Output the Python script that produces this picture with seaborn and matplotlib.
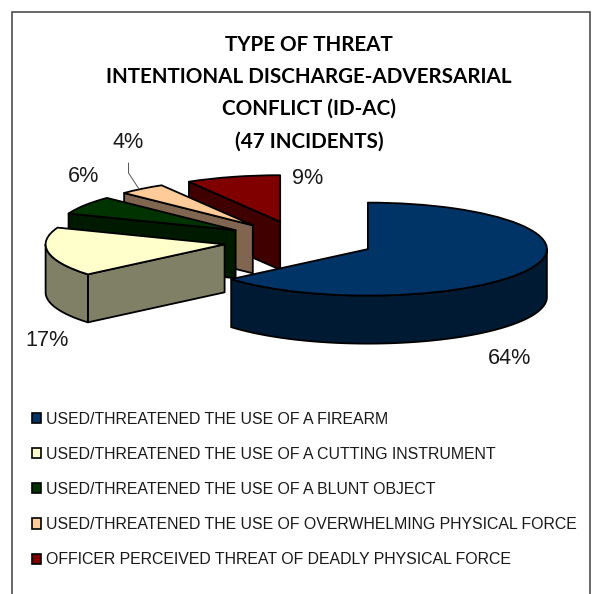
import matplotlib
matplotlib.use("Agg")
import matplotlib.pyplot as plt
from matplotlib.patches import Patch, Polygon, Rectangle
import numpy as np
import seaborn as sns

# ---- data ----
categories = [
    "USED/THREATENED THE USE OF A FIREARM",
    "USED/THREATENED THE USE OF A CUTTING INSTRUMENT",
    "USED/THREATENED THE USE OF A BLUNT OBJECT",
    "USED/THREATENED THE USE OF OVERWHELMING PHYSICAL FORCE",
    "OFFICER PERCEIVED THREAT OF DEADLY PHYSICAL FORCE",
]
incidents = [30, 8, 3, 2, 4]
title_lines = ["TYPE OF THREAT", "INTENTIONAL DISCHARGE-ADVERSARIAL",
               "CONFLICT (ID-AC)", "(47 INCIDENTS)"]
top_colors = ["#003366", "#FFFFCC", "#003300", "#FFCC99", "#800000"]
side_colors = ["#001A33", "#808066", "#001A00", "#806650", "#400000"]

# ---- layout (pixels) ----
W, H = 592, 594
CX, CY, RX, RY, DEPTH = 300.5, 241, 179, 46.5, 48 / 46.5

sns.set_theme(style="white")
plt.rcParams["font.family"] = ["Liberation Sans", "DejaVu Sans"]

fig = plt.figure(figsize=(W / 100, H / 100), dpi=100, facecolor="white")
ax = fig.add_axes([0, 0, 1, 1])
edge = dict(edgecolor="black", linewidth=1.3, joinstyle="round")
wedges, _ = ax.pie(incidents, colors=top_colors, explode=[0.415, 0.43, 0.43, 0.43, 0.43],
                   startangle=90, counterclock=False, wedgeprops=edge)
ax.set_aspect("auto")
ax.set_xlim(-CX / RX, (W - CX) / RX)
ax.set_ylim((CY - H) / RY, CY / RY)
ax.axis("off")


def px(x, y):
    return (x / W, 1 - y / H)


# extruded sides, painted back to front
order = [4, 3, 2, 1, 0]
for z, i in enumerate(order):
    w = wedges[i]
    cx, cy = w.center
    wedge_z = 2 + 2 * z + 1
    w.set_zorder(wedge_z)
    # cut face seen from the front
    t = np.deg2rad(w.theta2)
    ex, ey = cx + w.r * np.cos(t), cy + w.r * np.sin(t)
    ax.add_patch(Polygon([(cx, cy), (ex, ey), (ex, ey - DEPTH), (cx, cy - DEPTH)],
                         closed=True, facecolor=side_colors[i], zorder=wedge_z - 1, **edge))
    # outer rim seen from the front (lower half of the ellipse)
    a = max(w.theta1, -180)
    b = min(w.theta2, 0)
    if b > a:
        ts = np.deg2rad(np.linspace(a, b, 120))
        xs, ys = cx + w.r * np.cos(ts), cy + w.r * np.sin(ts)
        ax.add_patch(Polygon(np.r_[np.c_[xs, ys], np.c_[xs, ys - DEPTH][::-1]],
                             closed=True, facecolor=side_colors[i], zorder=wedge_z - 1, **edge))

# percentage labels
total = sum(incidents)
label_pos = [(510, 359), (47, 341), (84, 176), (128, 142), (308, 178)]
for v, (lx, ly) in zip(incidents, label_pos):
    fx, fy = px(lx, ly)
    fig.text(fx, fy, f"{v / total:.0%}", ha="center", va="center", fontsize=15.6,
             color="#1a1a1a", zorder=30)

# leader line of the 4% label
fig.add_artist(plt.Line2D([px(128.5, 0)[0], px(128.5, 0)[0], px(139, 0)[0]],
                          [px(0, 163)[1], px(0, 173)[1], px(0, 189)[1]],
                          color="#555555", lw=0.7))

# title
for line, ty in zip(title_lines, [45, 77, 109, 142]):
    fx, fy = px(309, ty)
    fig.text(fx, fy, line, ha="center", va="center", fontsize=14.9, fontweight="bold",
             family=["Lato", "DejaVu Sans"], color="black")

# legend
handles = [Patch(facecolor=c, edgecolor="black", linewidth=1.2) for c in top_colors]
leg = fig.legend(handles, categories, loc="upper left", bbox_to_anchor=px(27, 407),
                 frameon=False, fontsize=11.4, labelspacing=1.27, handlelength=0.6,
                 handleheight=0.6, handletextpad=0.33, borderpad=0.3, borderaxespad=0,
                 labelcolor="#1a1a1a")

# chart frame
fig.add_artist(Rectangle(px(12, 640), (590 - 12) / W, (640 - 12) / H, fill=False,
                         edgecolor="#404040", linewidth=1.1, transform=fig.transFigure))

fig.savefig("out.png", dpi=100, facecolor="white")
